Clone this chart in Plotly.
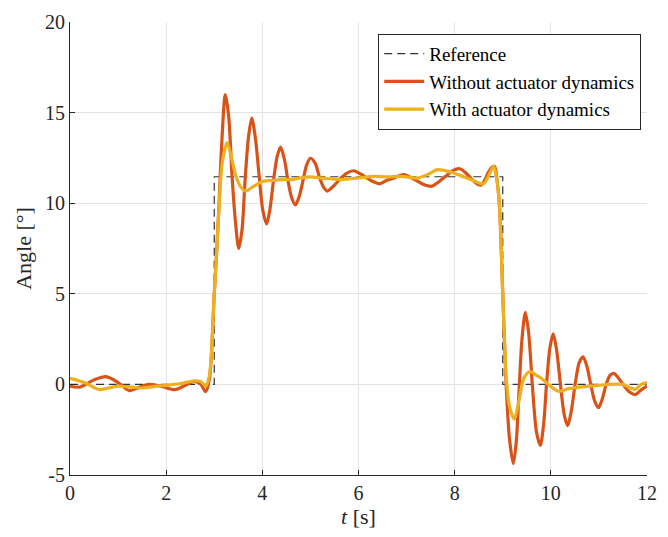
import plotly.graph_objects as go

# Reference (step) signal
ref_t = [0, 3, 3, 9, 9, 12]
ref_y = [0, 0, 11.46, 11.46, 0, 0]

# Without actuator dynamics
t_wo = [0, 0.2, 0.5, 0.75, 1.0, 1.23, 1.45, 1.64, 1.9, 2.18, 2.4, 2.59, 2.72, 2.82, 2.9,
        3.0, 3.05, 3.1, 3.15, 3.23, 3.3, 3.37, 3.44, 3.51, 3.58, 3.64, 3.71, 3.78, 3.86,
        3.93, 4.01, 4.09, 4.16, 4.23, 4.31, 4.38, 4.46, 4.53, 4.61, 4.69, 4.77, 4.85,
        4.92, 5.0, 5.1, 5.18, 5.27, 5.35, 5.5, 5.62, 5.75, 5.9, 6.05, 6.17, 6.3, 6.44,
        6.58, 6.7, 6.83, 6.95, 7.1, 7.24, 7.38, 7.53, 7.68, 7.82, 7.96, 8.11, 8.22, 8.33,
        8.45, 8.55, 8.63, 8.7, 8.78, 8.83, 8.88, 8.93, 9.0, 9.07, 9.14, 9.22, 9.28, 9.34,
        9.4, 9.47, 9.54, 9.62, 9.7, 9.78, 9.85, 9.91, 9.98, 10.05, 10.12, 10.2, 10.28,
        10.35, 10.43, 10.51, 10.59, 10.67, 10.75, 10.83, 10.91, 10.99, 11.07, 11.15,
        11.23, 11.31, 11.42, 11.53, 11.65, 11.76, 11.88, 12.0]
y_wo = [-0.1, -0.15, 0.25, 0.43, 0.1, -0.34, -0.15, 0.0, -0.1, -0.29, -0.05, 0.16, 0.0, -0.4, 0.3,
        5.0, 7.3, 10.0, 13.0, 16.0, 14.8, 11.5, 9.0, 7.5, 8.6, 11.2, 13.6, 14.7, 13.5,
        11.6, 9.6, 8.86, 9.7, 11.2, 12.6, 13.1, 12.4, 11.3, 10.3, 9.9, 10.4, 11.3,
        12.1, 12.48, 12.2, 11.5, 10.9, 10.67, 11.0, 11.35, 11.65, 11.79, 11.6, 11.4, 11.2, 11.07,
        11.25, 11.35, 11.5, 11.58, 11.4, 11.2, 11.0, 10.94, 11.2, 11.5, 11.8, 11.9, 11.7, 11.4,
        11.1, 11.0, 11.3, 11.7, 12.0, 12.03, 11.3, 9.95, 5.0, 0.0, -3.0, -4.37, -3.2, -0.3,
        2.5, 3.97, 2.8, -0.2, -2.6, -3.37, -2.2, 0.0, 2.0, 2.79, 1.9, 0.0, -1.7,
        -2.28, -1.4, 0.1, 1.2, 1.52, 1.0, 0.0, -0.9, -1.29, -0.8, 0.0,
        0.5, 0.61, 0.3, -0.1, -0.45, -0.56, -0.3, -0.1]

# With actuator dynamics
t_w = [0, 0.3, 0.61, 0.8, 1.0, 1.3, 1.5, 1.8, 2.0, 2.3, 2.59, 2.72, 2.82, 2.9,
       3.0, 3.05, 3.1, 3.17, 3.27, 3.35, 3.45, 3.55, 3.65, 3.8, 4.0, 4.2, 4.4, 4.6,
       4.8, 5.0, 5.2, 5.4, 5.66, 6.0, 6.34, 6.6, 6.89, 7.23, 7.45, 7.64, 7.8, 7.98,
       8.2, 8.39, 8.6, 8.72, 8.81, 8.87, 8.93, 9.0, 9.07, 9.14, 9.24, 9.33, 9.42, 9.5,
       9.58, 9.7, 9.8, 9.95, 10.16, 10.35, 10.6, 10.8, 11.0, 11.2, 11.5, 11.62, 11.75,
       11.88, 12.0]
y_w = [0.34, 0.1, -0.29, -0.2, -0.1, -0.15, -0.2, -0.1, -0.05, 0.05, 0.2, 0.15, -0.1, 0.5,
       5.0, 7.3, 9.8, 12.3, 13.35, 12.6, 11.5, 10.9, 10.67, 10.9, 11.2, 11.25, 11.3, 11.3,
       11.4, 11.45, 11.4, 11.35, 11.3, 11.4, 11.48, 11.45, 11.48, 11.39, 11.6, 11.85, 11.8, 11.67,
       11.45, 11.25, 11.07, 11.6, 12.03, 11.4, 9.95, 5.0, 0.5, -1.2, -1.92, -1.0, 0.2, 0.6,
       0.71, 0.5, 0.34, 0.0, -0.38, -0.25, -0.15, -0.1, -0.05, 0.0, 0.0, -0.15, -0.27,
       0.0, 0.1]

x_ticks = [0, 2, 4, 6, 8, 10, 12]
y_ticks = [-5, 0, 5, 10, 15, 20]
y_tick_text = ["-5", "0", "5", "10", "15", "20"]

FONT = "Liberation Serif"

fig = go.Figure()
fig.add_trace(go.Scatter(x=ref_t, y=ref_y, mode="lines", name="Reference",
                         line=dict(color="#333333", width=1.2, dash="8px,5px")))
fig.add_trace(go.Scatter(x=t_wo, y=y_wo, mode="lines", name="Without actuator dynamics",
                         line=dict(color="#D95319", width=3.2, shape="spline", smoothing=0.8)))
fig.add_trace(go.Scatter(x=t_w, y=y_w, mode="lines", name="With actuator dynamics",
                         line=dict(color="#EDB120", width=3.2, shape="spline", smoothing=0.8)))

axis_common = dict(showgrid=True, gridcolor="#e3e3e3", gridwidth=1, zeroline=False,
                   showline=True, linecolor="#262626", linewidth=1,
                   ticks="inside", ticklen=5, tickcolor="#262626",
                   tickfont=dict(family=FONT, size=20, color="#262626"))

fig.update_layout(
    width=668, height=537,
    margin=dict(l=70, r=11, t=15, b=62),
    paper_bgcolor="white", plot_bgcolor="white",
    font=dict(family=FONT, color="#262626"),
    xaxis=dict(range=[0, 12], tickvals=x_ticks, **axis_common,
               title=dict(text="<i>t</i> [s]", font=dict(family=FONT, size=22), standoff=4)),
    yaxis=dict(range=[-5, 20], tickvals=y_ticks, ticktext=y_tick_text, **axis_common,
               title=dict(text="Angle [°]", font=dict(family=FONT, size=22), standoff=7)),
    legend=dict(x=0.99, y=0.974, xanchor="right", yanchor="top",
                bgcolor="white", bordercolor="#262626", borderwidth=1,
                font=dict(family=FONT, size=19, color="#000000"),
                tracegroupgap=0, itemwidth=40),
    showlegend=True,
)

fig.write_html("out.html", config={"displayModeBar": False},
               post_script="document.body.style.margin='0px';document.body.style.overflow='hidden';")
